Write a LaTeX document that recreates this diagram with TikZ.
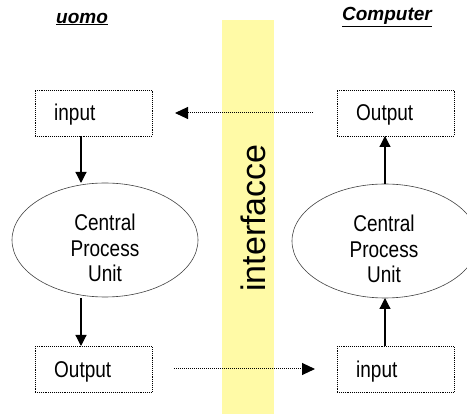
\documentclass[tikz,border=0pt]{standalone}
\usepackage{fontspec}
\setmainfont{Liberation Sans}
\usetikzlibrary{shapes.geometric,arrows.meta}
\tikzset{
  boxnode/.style={draw, densely dotted, line width=0.9pt, minimum width=117pt, minimum height=46pt, inner sep=0pt},
  cpunode/.style={draw, ellipse, line width=0.6pt, draw=black!75, minimum width=186pt, minimum height=114pt, inner sep=0pt},
  cputext/.style={align=center, inner sep=0pt, font=\fontsize{19}{21}\selectfont, yscale=1.2, transform shape},
  boxtext/.style={font=\fontsize{19}{23}\selectfont, anchor=base west, inner sep=0pt, yscale=1.2, transform shape},
  solidarrow/.style={line width=1.2pt, -{Triangle[length=11pt,width=11pt]}},
  dotarrow/.style={densely dotted, line width=1pt, -{Triangle[length=13pt,width=12pt]}},
  titletext/.style={font=\fontsize{19}{23}\selectfont\bfseries\itshape, inner sep=0pt}
}
\begin{document}
\begin{tikzpicture}[x=1pt,y=-1pt]
\useasboundingbox (0,0) rectangle (467,414);
\clip (0,0) rectangle (467,414);
% yellow band
\fill[yellow!35] (222,20) rectangle (274,414);
\node[rotate=90, font=\fontsize{34}{36}\selectfont, inner sep=0pt] (iface) at (253,218) {interfacce};
% titles
\node[titletext] (uomo) at (82,19) {\underline{uomo}};
\node[titletext] (comp) at (387,17) {\underline{Computer}};
% left column
\node[boxnode] (linput) at (93.5,113) {};
\node[boxtext] (linputt) at (54,121) {input};
\node[cpunode] (lcpu) at (105,240) {};
\node[cputext] (lcput) at (105,248) {Central\\Process\\Unit};
\node[boxnode] (loutput) at (93.5,369.5) {};
\node[boxtext] (loutputt) at (54,378) {Output};
% right column
\node[boxnode] (routput) at (395.5,113) {};
\node[boxtext] (routputt) at (356,121) {Output};
\node[cpunode] (rcpu) at (385,241) {};
\node[cputext] (rcput) at (384,249) {Central\\Process\\Unit};
\node[boxnode] (rinput) at (395.5,369.5) {};
\node[boxtext] (rinputt) at (356,378) {input};
% arrows
\coordinate (a1) at (81,136);
\coordinate (a2) at (81,183);
\coordinate (a3) at (81,298);
\coordinate (a4) at (81,346);
\draw[solidarrow] (a1) -- (a2);
\draw[solidarrow] (a3) -- (a4);
\coordinate (b1) at (385,346);
\coordinate (b2) at (385,298);
\coordinate (b3) at (385,184);
\coordinate (b4) at (385,136);
\draw[solidarrow] (b1) -- (b2);
\draw[solidarrow] (b3) -- (b4);
\coordinate (t1) at (313,113);
\coordinate (t2) at (175,113);
\draw[dotarrow] (t1) -- (t2);
\coordinate (u1) at (174,369);
\coordinate (u2) at (315,369);
\draw[dotarrow] (u1) -- (u2);
\end{tikzpicture}
\end{document}
